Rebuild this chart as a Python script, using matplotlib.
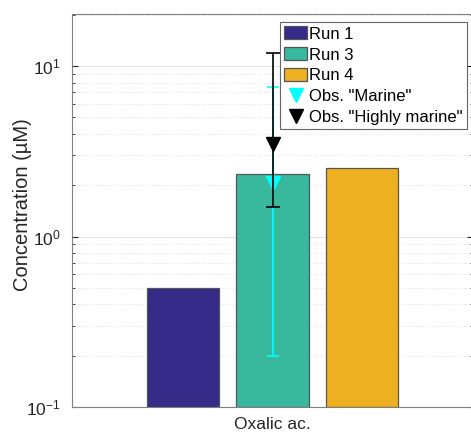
import numpy as np
import matplotlib.pyplot as plt
from matplotlib.ticker import LogLocator, NullFormatter
from matplotlib.lines import Line2D

plt.rcParams['font.family'] = ['Liberation Sans', 'DejaVu Sans']
plt.rcParams['mathtext.fontset'] = 'custom'
plt.rcParams['mathtext.rm'] = 'Liberation Sans'
plt.rcParams['mathtext.default'] = 'regular'

# Data
compound = ['Oxalic ac.']
runs = ['Run 1', 'Run 3', 'Run 4']
run_vals = [0.50, 2.32, 2.54]
run_colors = ['#352a87', '#38b99e', '#ecb021']
offsets = [-0.223, 0.0, 0.223]

obs_marine = 2.06
obs_marine_lo, obs_marine_hi = 0.20, 7.5
obs_high = 3.5
obs_high_lo, obs_high_hi = 1.5, 12.0

fig = plt.figure(figsize=(4.71, 4.33), dpi=100)
ax = fig.add_axes([72/471, 1-407/433, (473-72)/471, (407-14)/433])

ybase = 0.1
x0 = 1.0
handles = []
for name, v, c, off in zip(runs, run_vals, run_colors, offsets):
    b = ax.bar(x0 + off, v - ybase, width=0.18, bottom=ybase, color=c,
               edgecolor='#555555', linewidth=0.9, label=name, zorder=2)
    handles.append(b)

ax.errorbar([x0], [obs_marine],
            yerr=[[obs_marine - obs_marine_lo], [obs_marine_hi - obs_marine]],
            fmt='v', color='cyan', ecolor='cyan', markersize=9.5, capsize=4.5,
            elinewidth=1.2, capthick=1.2, zorder=3)
ax.errorbar([x0], [obs_high],
            yerr=[[obs_high - obs_high_lo], [obs_high_hi - obs_high]],
            fmt='v', color='black', ecolor='black', markersize=9.5, capsize=5,
            elinewidth=1.2, capthick=1.2, zorder=4)
handles.append(Line2D([], [], ls='none', marker='v', color='cyan', markersize=10))
handles.append(Line2D([], [], ls='none', marker='v', color='black', markersize=10))
labels = runs + ['Obs. "Marine"', 'Obs. "Highly marine"']

ax.set_yscale('log')
ax.set_ylim(0.1, 20.2)
ax.set_xlim(0.5, 1.5)
ax.set_xticks([x0])
ax.set_xticklabels(compound, fontsize=12.8, color='#262626')
ax.set_ylabel('Concentration (\u00b5M)', fontsize=14.5, color='#262626')
ax.yaxis.set_label_coords(-0.1, 0.514)
ax.yaxis.set_minor_locator(LogLocator(base=10, subs=np.arange(2, 10)))
ax.yaxis.set_minor_formatter(NullFormatter())
ax.tick_params(axis='both', which='both', direction='in', colors='#262626',
               labelsize=12.5, right=True, top=False)
ax.tick_params(axis='x', length=0, pad=7)
ax.tick_params(axis='y', which='major', length=4, pad=8)
ax.tick_params(axis='y', which='minor', length=2)

ax.grid(True, which='major', axis='y', color='#e3e3e3', linewidth=0.8, zorder=0)
ax.grid(True, which='minor', axis='y', color='#e3e3e3', linestyle=':', linewidth=0.8, zorder=0)
ax.set_axisbelow(True)
for s in ax.spines.values():
    s.set_color('#808080')
    s.set_linewidth(0.8)

leg = ax.legend(handles, labels, loc='upper right',
                bbox_to_anchor=(467/471, 1-22/433), bbox_transform=fig.transFigure,
                fontsize=12, frameon=True, fancybox=False, edgecolor='#666666',
                framealpha=1, borderpad=0.25, labelspacing=0.33,
                handlelength=1.35, handleheight=0.85, handletextpad=0.15,
                borderaxespad=0)
leg.get_frame().set_linewidth(0.8)

fig.savefig('out.png', dpi=100)
